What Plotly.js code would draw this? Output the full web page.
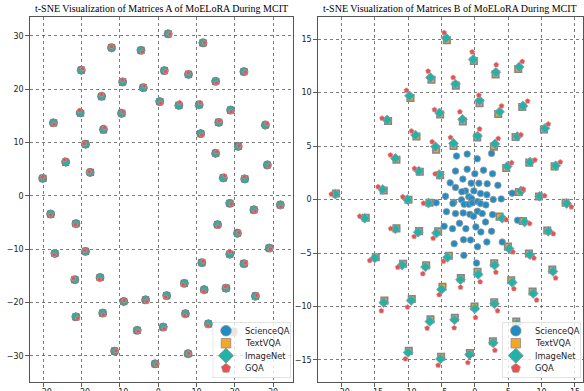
<!DOCTYPE html>
<html>
<head>
<meta charset="utf-8">
<script src="https://cdn.plot.ly/plotly-3.0.1.min.js"></script>
<style>html,body{margin:0;padding:0;background:#fff;}#chart{width:584px;height:391px;}</style>
</head>
<body>
<div id="chart"></div>
<script>
// ---------- Matrices A (left panel) ----------
const aSciX = [-30.2,-27.4,-24.2,-20.4,-20.1,-19.0,-17.8,-14.8,-14.3,-12.2,-9.6,-9.3,-4.5,-3.9,0.4,1.6,2.6,5.4,7.9,10.7,11.1,11.7,15.0,15.0,15.8,17.0,18.9,20.9,22.4,22.6,28.0,28.5,-28.1,-21.5,-27.0,-19.0,-21.8,-15.2,-21.5,-14.5,-11.4,-9.0,-5.5,-3.3,-0.8,1.3,2.2,6.8,7.1,7.8,11.4,12.0,13.1,15.5,18.7,18.7,20.7,22.4,17.7,25.4,25.0,31.9,29.0,19.6];
const aSciY = [3.3,13.7,6.4,15.6,23.6,9.7,4.4,18.7,12.5,27.8,15.5,21.4,27.3,20.3,17.7,23.5,30.4,17.0,22.8,17.1,11.7,28.7,21.5,8.0,13.8,3.4,16.1,9.3,23.3,3.2,13.3,5.8,-3.4,-5.2,-10.8,-10.4,-15.7,-15.3,-22.7,-22.0,-29.1,-19.8,-25.2,-19.5,-31.5,-24.6,-18.7,-16.4,-22.1,-29.6,-12.5,-17.6,-24.0,-5.4,-1.4,-10.9,-7.0,-12.7,-17.3,-18.8,-2.6,-1.7,-9.8,-25.5];
const aTextX = [-30.1,-27.3,-24.2,-20.3,-20.1,-19.0,-17.7,-14.8,-14.3,-12.2,-9.5,-9.3,-4.5,-3.9,0.4,1.6,2.6,5.4,7.9,10.7,11.1,11.7,15.0,15.0,15.8,17.0,18.9,20.9,22.4,22.6,28.0,28.5,-28.1,-21.5,-27.0,-19.0,-21.8,-15.2,-21.5,-14.5,-11.4,-9.0,-5.5,-3.3,-0.8,1.3,2.2,6.8,7.1,7.8,11.4,12.0,13.1,15.5,18.7,18.7,20.7,22.4,17.7,25.4,25.0,31.9,29.0,19.6];
const aTextY = [3.3,13.7,6.3,15.5,23.6,9.7,4.4,18.6,12.4,27.8,15.5,21.4,27.3,20.3,17.7,23.5,30.4,17.0,22.8,17.1,11.7,28.7,21.5,8.0,13.8,3.4,16.1,9.3,23.3,3.2,13.3,5.8,-3.4,-5.2,-10.8,-10.4,-15.7,-15.3,-22.7,-22.0,-29.1,-19.8,-25.2,-19.5,-31.5,-24.6,-18.7,-16.4,-22.1,-29.6,-12.5,-17.6,-24.0,-5.4,-1.4,-10.9,-7.0,-12.7,-17.3,-18.8,-2.6,-1.7,-9.8,-25.5];
const aImgX = [-30.2,-27.4,-24.1,-20.4,-20.2,-19.0,-17.8,-14.8,-14.4,-12.2,-9.6,-9.3,-4.6,-3.9,0.3,1.5,2.5,5.3,7.9,10.6,11.1,11.6,15.0,14.9,15.8,16.9,18.9,20.8,22.3,22.6,27.9,28.5,-28.1,-21.5,-27.0,-19.0,-21.7,-15.2,-21.6,-14.5,-11.4,-9.0,-5.5,-3.3,-0.8,1.3,2.2,6.9,7.1,7.8,11.3,12.0,13.1,15.5,18.6,18.7,20.6,22.3,17.7,25.3,25.0,31.9,29.0,19.6];
const aImgY = [3.2,13.8,6.2,15.5,23.5,9.6,4.3,18.6,12.4,27.7,15.4,21.3,27.4,20.2,17.8,23.6,30.5,16.9,22.7,17.0,11.8,28.8,21.6,7.9,13.7,3.3,16.2,9.2,23.4,3.1,13.2,5.9,-3.3,-5.1,-10.7,-10.5,-15.8,-15.2,-22.6,-21.9,-29.1,-19.9,-25.1,-19.4,-31.4,-24.5,-18.6,-16.3,-22.0,-29.6,-12.6,-17.5,-23.9,-5.3,-1.3,-11.0,-7.1,-12.8,-17.4,-18.9,-2.5,-1.6,-9.7,-25.4];
const aGqaX = [-30.2,-27.23,-24.46,-20.57,-19.75,-19.35,-17.97,-14.8,-14.04,-12.2,-9.17,-9.3,-4.15,-3.64,0.66,1.95,3.03,5.57,7.81,10.96,11.36,12.05,15.17,15.26,15.89,17.35,19.07,21.16,22.83,22.51,28.43,28.93,-28.1,-21.59,-27.17,-19.17,-22.15,-15.37,-21.07,-14.33,-11.05,-8.91,-5.24,-3.04,-0.45,1.56,1.94,6.54,6.93,7.97,11.75,11.91,12.93,15.67,19.05,18.7,21.05,22.75,17.61,25.75,25.26,31.99,29.35,19.75];
const aGqaY = [3.55,13.45,6.77,16.04,23.85,9.82,4.52,19.01,12.81,27.99,15.75,21.71,26.99,20.61,17.39,23.31,30.34,17.56,23.11,17.54,11.39,28.7,21.19,8.25,14.05,3.77,15.79,9.36,23.18,3.57,13.55,5.61,-3.59,-5.39,-11.05,-10.21,-15.51,-15.67,-22.95,-22.31,-29.04,-19.61,-25.39,-19.75,-31.62,-24.91,-19.01,-16.71,-22.47,-29.54,-12.25,-17.91,-24.37,-5.77,-1.52,-10.46,-6.94,-12.58,-17.05,-18.68,-2.85,-2.01,-9.99,-25.75];

// ---------- Matrices B (right panel) ----------
const bSciX = [-2.75,-1.15,0.35,2.5,-2.9,-1.15,0.0,1.3,2.65,-3.7,-1.8,-2.9,-1.4,-0.55,0.6,1.85,3.45,-0.15,0.85,1.8,-4.4,-0.9,-0.5,-3.15,-2.0,-1.6,-0.9,-0.4,0.4,0.85,1.65,2.75,3.95,-4.25,-2.9,-1.75,-0.75,-0.2,0.4,1.1,2.65,-4.6,-3.35,-2.3,-1.35,0.15,1.6,0.9,2.5,-3.1,-1.7,-0.65,0.4,1.8,4.1,-1.65,0.25,-5.8,-3.3,-1.95,5.6,6.4];
const bSciY = [4.06,4.25,3.81,4.31,2.66,2.84,2.41,2.75,2.41,1.56,1.91,1.13,0.81,1.53,1.53,1.47,1.34,0.81,0.56,0.44,0.31,0.25,0.09,-0.25,-0.03,-0.44,-0.44,-0.31,-0.19,-0.38,-0.5,0.0,0.06,-1.13,-1.31,-1.25,-1.38,-1.56,-1.1,-1.31,-1.41,-2.5,-2.72,-2.22,-2.72,-2.56,-2.1,-3.03,-2.97,-4.13,-3.75,-3.78,-4.41,-3.97,-3.97,-5.22,-5.94,-0.3,-0.36,0.73,0.6,-1.94];
const bTextX = [-20.8,-13.65,-13.0,-11.75,-9.95,-9.65,-8.75,-8.25,-6.5,-5.8,-5.2,-5.2,-4.2,-3.2,-2.85,-1.8,-0.15,0.35,0.7,3.1,2.85,3.5,4.7,6.1,6.5,7.1,6.6,8.15,10.35,9.6,11.95,-16.35,-11.75,-8.35,-5.5,-6.8,-14.85,-10.75,-7.3,-3.9,-4.85,-2.1,0.4,2.9,4.95,3.7,7.2,8.1,5.45,8.65,11.6,10.85,13.6,-13.55,-9.45,-6.65,-3.0,-0.05,2.9,-9.9,-5.05,-0.75,2.7,6.2];
const bTextY = [0.56,0.85,7.35,3.72,-0.02,9.5,5.9,2.6,11.2,4.65,7.95,2.28,14.9,5.0,10.65,7.3,12.95,5.8,9.0,11.7,4.95,8.0,2.95,5.85,12.2,8.65,0.7,3.45,6.55,0.28,3.1,-1.7,-2.7,-2.95,-2.98,-0.3,-5.4,-6.0,-6.15,-5.25,-8.15,-7.35,-6.75,-5.95,-4.4,-1.6,-2.0,-5.05,-7.55,-8.6,-6.55,-2.9,-0.3,-9.45,-9.3,-11.2,-11.05,-10.0,-9.6,-14.15,-14.7,-14.35,-13.25,-11.4];
const bImgX = [-20.9,-13.8,-13.15,-11.9,-10.1,-9.8,-8.9,-8.4,-6.65,-5.9,-5.3,-5.35,-4.3,-3.2,-2.9,-1.85,-0.25,0.4,0.7,3.15,3.0,3.7,4.85,6.35,6.65,7.2,6.9,8.25,10.5,9.7,12.1,-16.5,-11.9,-8.5,-5.75,-6.95,-15.0,-10.9,-7.4,-4.1,-5.0,-2.15,0.5,2.95,5.15,4.1,7.45,8.25,5.6,8.75,11.7,11.0,13.75,-13.65,-9.55,-6.75,-3.05,0.0,2.95,-10.0,-5.15,-0.8,2.75,6.3];
const bImgY = [0.5,0.94,7.44,3.84,0.0,9.7,6.03,2.66,11.4,4.94,8.1,2.34,15.1,5.25,10.8,7.5,13.1,5.94,9.25,11.9,5.2,8.2,3.1,5.9,12.4,8.75,0.8,3.5,6.66,0.3,3.16,-1.75,-2.75,-3.06,-3.13,-0.33,-5.47,-6.13,-6.3,-5.4,-8.4,-7.5,-7.0,-6.13,-4.6,-1.75,-2.1,-5.16,-7.75,-8.78,-6.72,-2.97,-0.37,-9.63,-9.44,-11.4,-11.25,-10.2,-9.75,-14.3,-14.9,-14.5,-13.4,-11.6];
const bGqaX = [-21.5,-14.5,-13.9,-12.65,-10.8,-10.25,-9.5,-9.05,-7.0,-6.4,-6.05,-5.95,-4.6,-3.65,-3.25,-2.25,-0.4,0.7,0.6,3.2,3.5,4.0,5.5,6.9,7.1,7.9,7.25,9.0,11.0,10.45,12.8,-17.25,-12.6,-9.1,-6.25,-7.7,-15.75,-11.55,-7.8,-4.7,-5.35,-2.15,0.8,3.15,5.7,4.7,8.2,8.85,5.85,9.25,12.1,11.75,14.45,-14.0,-10.1,-7.15,-3.1,0.1,3.4,-10.4,-5.5,-1.05,3.0,6.5];
const bGqaY = [0.5,1.19,7.6,4.16,0.25,10.2,6.4,2.9,12.0,5.4,8.4,2.4,15.6,5.8,11.4,8.2,13.8,6.6,9.75,12.6,5.7,8.75,3.44,6.06,12.9,9.2,0.97,3.7,7.06,0.35,3.5,-1.56,-2.72,-3.47,-3.63,-0.35,-5.7,-6.34,-6.94,-5.78,-8.9,-8.2,-7.7,-6.8,-4.9,-1.9,-2.25,-5.47,-8.34,-9.4,-7.34,-3.2,-0.69,-10.4,-10.06,-12.03,-12.0,-11.03,-10.4,-14.9,-15.5,-15.25,-14.1,-12.3];

const seriesNames = ['ScienceQA','TextVQA','ImageNet','GQA'];
const titleA = 't-SNE Visualization of Matrices A of MoELoRA During MCIT';
const titleB = 't-SNE Visualization of Matrices B of MoELoRA During MCIT';

const colors = ['#1f8cc4', '#f5a623', '#22b2a8', '#f04e4e'];
const symbols = ['circle', 'square', 'diamond', 'pentagon'];
// left panel: markers coincide, thick grey edges give the grey blobs
const stylesA = [
  {size:7.2, line:{color:'#7c7c7c', width:1.6}},
  {size:5.2, line:{color:'#7c7c7c', width:2}},
  {size:6,   line:{color:'#8a8a8a', width:0.8}},
  {size:4.8, line:{color:'#b0b0b0', width:0.5}}
];
const stylesB = [
  {size:6.5, line:{color:'#9a9a9a', width:0.8}},
  {size:6.5, line:{color:'#858585', width:1.6}},
  {size:7.5, line:{color:'#9a9a9a', width:0.9}},
  {size:5.5, line:{color:'#b0b0b0', width:0.5}}
];
const dataA = [[aSciX,aSciY],[aTextX,aTextY],[aImgX,aImgY],[aGqaX,aGqaY]];
const dataB = [[bSciX,bSciY],[bTextX,bTextY],[bImgX,bImgY],[bGqaX,bGqaY]];

const W = 584, H = 391;
const traces = [];
const annotations = [];

function addPanel(data, styles, xa, ya) {
  data.forEach((d, i) => {
    const s = styles[i];
    traces.push({
      type:'scatter', mode:'markers', x:d[0], y:d[1], xaxis:xa, yaxis:ya,
      name:seriesNames[i], showlegend:false, hoverinfo:'skip',
      marker:{symbol:symbols[i], color:colors[i], size:s.size, line:s.line}
    });
  });
}
addPanel(dataA, stylesA, 'x', 'y');
addPanel(dataB, stylesB, 'x2', 'y2');

// compact legends (box 78x56 px), drawn in their own small subplots on top
const legRows = [8.7, 21.2, 33.7, 46.3];
const legSizes = [10.5, 9.5, 11.5, 9.5];
function addLegend(xa, ya) {
  traces.push({
    type:'scatter', mode:'lines', x:[0,78,78,0,0], y:[0,0,56,56,0], xaxis:xa, yaxis:ya,
    fill:'toself', fillcolor:'rgba(255,255,255,0.8)', line:{color:'#c8c8c8', width:1},
    showlegend:false, hoverinfo:'skip', cliponaxis:false
  });
  seriesNames.forEach((n, i) => {
    traces.push({
      type:'scatter', mode:'markers', x:[13.3], y:[legRows[i]], xaxis:xa, yaxis:ya,
      showlegend:false, hoverinfo:'skip', cliponaxis:false,
      marker:{symbol:symbols[i], color:colors[i], size:legSizes[i], line:{color:'#8c8c8c', width:0.8}}
    });
    annotations.push({text:n, xref:xa, yref:ya, x:30, y:legRows[i], xanchor:'left', yanchor:'middle',
      showarrow:false, font:{family:'DejaVu Sans', size:8.3, color:'#222'}});
  });
}
addLegend('x3', 'y3');
addLegend('x4', 'y4');

const yDom = [(H-382)/H, (H-17.3)/H];
const axisCommon = {
  showline:true, mirror:true, linecolor:'#555', linewidth:1.3,
  showgrid:true, gridcolor:'#444', gridwidth:0.7, griddash:'dot',
  zeroline:false, ticks:'outside', ticklen:3.5, tickwidth:0.8, tickcolor:'#333',
  tickfont:{family:'DejaVu Sans', size:8, color:'#222'}, automargin:false
};
const hiddenAxis = {visible:false, showgrid:false, zeroline:false, fixedrange:true};
const legDomY = [(H-378)/H, (H-322)/H];
const layout = {
  width:W, height:H, margin:{l:0,r:0,t:0,b:0},
  paper_bgcolor:'#fff', plot_bgcolor:'rgba(0,0,0,0)',
  xaxis:Object.assign({}, axisCommon, {domain:[30/W, 293/W], range:[-33.5,35.2], dtick:10, tick0:0, anchor:'y', ticklabelstandoff:-1}),
  yaxis:Object.assign({}, axisCommon, {domain:yDom, range:[-34.9,33.5], dtick:10, tick0:0, anchor:'x'}),
  xaxis2:Object.assign({}, axisCommon, {domain:[318/W, 583/W], range:[-23.5,16.2], dtick:5, tick0:0, anchor:'y2', ticklabelstandoff:-1}),
  yaxis2:Object.assign({}, axisCommon, {domain:yDom, range:[-17.06,17.04], dtick:5, tick0:0, anchor:'x2'}),
  xaxis3:Object.assign({}, hiddenAxis, {domain:[212.7/W, 290.7/W], range:[0,78], anchor:'y3'}),
  yaxis3:Object.assign({}, hiddenAxis, {domain:legDomY, range:[56,0], anchor:'x3'}),
  xaxis4:Object.assign({}, hiddenAxis, {domain:[502.5/W, 580.5/W], range:[0,78], anchor:'y4'}),
  yaxis4:Object.assign({}, hiddenAxis, {domain:legDomY, range:[56,0], anchor:'x4'}),
  annotations:annotations.concat([
    {text:titleA, xref:'paper', yref:'paper', x:(30+293)/2/W, y:yDom[1], xanchor:'center', yanchor:'bottom', yshift:1, showarrow:false, font:{family:'Liberation Serif', size:10, color:'#000'}},
    {text:titleB, xref:'paper', yref:'paper', x:(318+583)/2/W, y:yDom[1], xanchor:'center', yanchor:'bottom', yshift:1, showarrow:false, font:{family:'Liberation Serif', size:10, color:'#000'}}
  ]),
  showlegend:false
};
Plotly.newPlot('chart', traces, layout, {staticPlot:true, displayModeBar:false});
</script>
</body>
</html>
